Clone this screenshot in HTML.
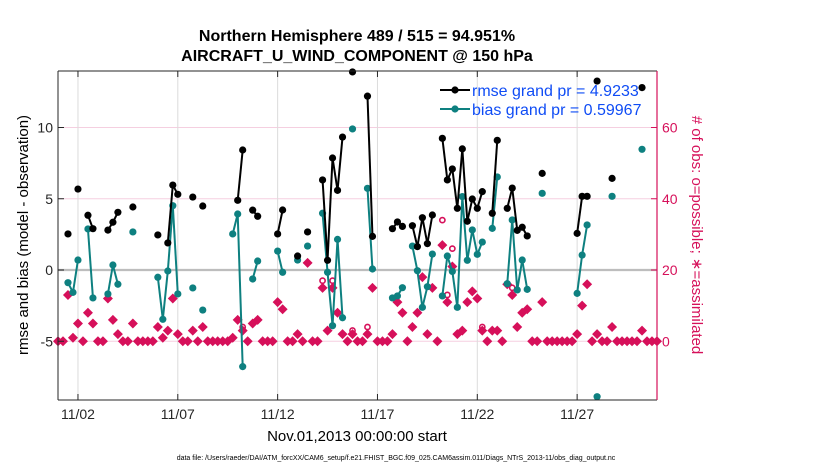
<!DOCTYPE html>
<html><head><meta charset="utf-8">
<style>
html,body{margin:0;padding:0;background:#fff;}
svg{display:block;font-family:"Liberation Sans",Arial,sans-serif;}
</style></head>
<body>
<svg id="chart" width="830" height="470" viewBox="0 0 830 470" xmlns="http://www.w3.org/2000/svg">
<rect x="0" y="0" width="830" height="470" fill="#fff"/>
<text x="357" y="41" text-anchor="middle" font-size="16" font-weight="bold">Northern Hemisphere 489 / 515 = 94.951%</text>
<text x="357" y="61" text-anchor="middle" font-size="16" font-weight="bold">AIRCRAFT_U_WIND_COMPONENT @ 150 hPa</text>
<g id="grid"></g>
<g id="marks"></g>
<g id="axes"></g>
<g>
  <line x1="440" y1="90" x2="470" y2="90" stroke="#000" stroke-width="2"/>
  <circle cx="455" cy="90" r="3.6" fill="#000"/>
  <text x="472" y="96" font-size="16" fill="#0f4cf5">rmse grand pr = 4.9233</text>
  <line x1="440" y1="109" x2="470" y2="109" stroke="#0e8080" stroke-width="2"/>
  <circle cx="455" cy="109" r="3.6" fill="#0e8080"/>
  <text x="472" y="115" font-size="16" fill="#0f4cf5">bias grand pr = 0.59967</text>
</g>
<text transform="translate(28,235) rotate(-90)" text-anchor="middle" font-size="15">rmse and bias (model - observation)</text>
<text transform="translate(692,235) rotate(90)" text-anchor="middle" font-size="15" fill="#d6105a"># of obs: o=possible; ∗=assimilated</text>
<text x="357" y="441" text-anchor="middle" font-size="15">Nov.01,2013 00:00:00 start</text>
<text x="396" y="460" text-anchor="middle" font-size="7">data file: /Users/raeder/DAI/ATM_forcXX/CAM6_setup/f.e21.FHIST_BGC.f09_025.CAM6assim.011/Diags_NTrS_2013-11/obs_diag_output.nc</text>
</svg>
<script>
var n = null;
var rmse = [n,n,2.53,n,5.68,n,3.84,2.9,n,n,2.8,3.35,4.05,n,n,4.42,n,n,n,n,2.46,n,1.9,5.96,5.31,n,n,5.12,n,4.49,
n,n,n,n,n,n,4.89,8.42,n,4.2,3.77,n,n,n,2.53,4.21,n,n,0.98,n,2.67,n,n,6.32,0.68,7.86,5.59,9.33,n,13.9,
n,n,12.2,2.36,n,n,n,2.9,3.37,3.06,n,3.11,1.64,3.67,1.85,3.86,n,9.24,6.32,7.09,4.33,8.5,3.42,4.98,4.33,5.5,n,3.98,9.1,n,
4.33,5.75,2.78,3.0,2.39,n,n,6.78,n,n,n,n,n,n,2.57,5.17,5.17,n,13.26,n,n,6.43,n,n,n,n,n,12.8,n,n,n];
var bias = [n,n,-0.89,-1.57,0.7,n,2.88,-1.96,n,n,-1.68,0.35,-1.0,n,n,2.67,n,n,n,n,-0.51,-3.46,-0.07,4.51,-1.68,n,n,-1.26,n,-2.81,
n,n,n,n,n,2.53,3.93,-6.78,n,-0.63,0.63,n,n,n,1.33,-0.16,n,n,0.7,n,1.68,n,n,3.98,-0.16,-3.91,2.15,-3.35,n,9.9,
n,n,5.73,0.07,n,n,n,-1.96,-1.82,-1.24,n,1.68,-0.05,-2.62,-1.17,1.12,n,-1.82,0.98,-0.1,-2.62,5.15,0.68,2.81,1.1,1.96,n,2.92,6.53,n,
-0.96,3.51,-1.4,0.7,-1.36,n,n,5.38,n,n,n,n,n,n,-1.64,1.05,3.16,n,-8.89,n,n,5.17,n,n,n,n,n,8.47,n,n,n];
var assimilated = [0,0,13,1,5,0,8,5,0,0,12,6,2,0,0,5,0,0,0,0,4,1,3,12,2,0,0,3,0,4,
0,0,0,0,0,1,6,3,0,5,6,0,0,0,11,9,0,0,2,0,22,0,0,15,3,15,8,2,0,2,
0,0,2,15,0,0,0,2,11,8,0,4,8,18,2,15,0,27,11,21,2,3,11,14,12,3,0,3,3,0,
16,13,4,8,9,0,0,11,0,0,0,0,0,0,2,10,16,0,2,0,0,4,0,0,0,0,0,3,0,0,0];
var possible = [0,0,13,1,5,0,8,5,0,0,12,6,2,0,0,5,0,0,0,0,4,1,3,12,2,0,0,3,0,4,
0,0,0,0,0,1,6,4,0,5,6,0,0,0,11,9,0,0,2,0,22,0,0,17,3,17,8,2,0,3,
0,0,4,15,0,0,0,2,11,8,0,4,8,18,2,15,0,34,13,26,2,3,11,14,12,4,0,3,3,0,
16,15,4,8,9,0,0,11,0,0,0,0,0,0,2,10,16,0,2,0,0,4,0,0,0,0,0,3,0,0,0];
var xTickLabels = ["11/02","11/07","11/12","11/17","11/22","11/27"];
var xTickDays = [1,6,11,16,21,26];
var yLeftTicks = [-5,0,5,10];
var yRightTicks = [0,20,40,60];

var L=58,R=657,T=71,B=400;
var PINK="#d6105a", TEAL="#0e8080";
function xDay(d){return L + (d/30)*(R-L);}
function xIdx(i){return xDay(i*0.25);}
function yL(v){return 270 - v*14.25;}
function yR(c){return yL(c/4 - 5);}
var NS="http://www.w3.org/2000/svg";
function mk(tag,attrs,parent){var e=document.createElementNS(NS,tag);for(var k in attrs)e.setAttribute(k,attrs[k]);parent.appendChild(e);return e;}
var grid=document.getElementById('grid'), marks=document.getElementById('marks'), axes=document.getElementById('axes');

for(var t=0;t<yRightTicks.length;t++){
  var gl=mk('line',{x1:L,x2:R,y1:yR(yRightTicks[t]),y2:yR(yRightTicks[t]),stroke:"#f5cfe0","stroke-width":1},grid);
  
  
}
for(var t=0;t<xTickDays.length;t++){
  var vg=mk('line',{x1:xDay(xTickDays[t]),x2:xDay(xTickDays[t]),y1:T,y2:B,stroke:"#dcdcdc","stroke-width":1},grid);
  
  
}
var zl=mk('line',{x1:L,x2:R,y1:yL(0),y2:yL(0),stroke:"#bdbdbd","stroke-width":2.2},grid);



for(var i=0;i<possible.length;i++){
  if(possible[i]!==assimilated[i]){
    var pc=mk('circle',{cx:xIdx(i),cy:yR(possible[i]),r:2.6,fill:"none",stroke:PINK,"stroke-width":1.6},marks);
    
    
  }
}
for(var i=0;i<assimilated.length;i++){
  var x=xIdx(i), y=yR(assimilated[i]);
  var dm=mk('polygon',{points:(x)+","+(y-5)+" "+(x+5)+","+y+" "+x+","+(y+5)+" "+(x-5)+","+y,fill:PINK},marks);
  
  
}
function series(arr,color,name){
  for(var i=0;i<arr.length-1;i++){
    if(arr[i]!==null && arr[i+1]!==null){
      var sl=mk('line',{x1:xIdx(i),y1:yL(arr[i]),x2:xIdx(i+1),y2:yL(arr[i+1]),stroke:color,"stroke-width":2},marks);
      
      
    }
  }
  for(var i=0;i<arr.length;i++){
    if(arr[i]===null) continue;
    var c=mk('circle',{cx:xIdx(i),cy:yL(arr[i]),r:3.6,fill:color},marks);
    
    
  }
}
series(bias,TEAL,'bias');
series(rmse,"#000",'rmse');

var fl=mk('line',{x1:L,y1:T,x2:L,y2:B,stroke:"#262626","stroke-width":1},axes);


var fb=mk('line',{x1:L,y1:B,x2:R,y2:B,stroke:"#262626","stroke-width":1},axes);


var ft=mk('line',{x1:L,y1:T,x2:R,y2:T,stroke:"#262626","stroke-width":1},axes);


var fr=mk('line',{x1:R,y1:T,x2:R,y2:B,stroke:PINK,"stroke-width":1.2},axes);



for(var t=0;t<yLeftTicks.length;t++){
  var y=yL(yLeftTicks[t]);
  mk('line',{x1:L,x2:L+6,y1:y,y2:y,stroke:"#262626"},axes);
  var lt=mk('text',{x:L-5,y:y+5,"text-anchor":"end","font-size":14,fill:"#262626"},axes);
  lt.textContent=yLeftTicks[t];
  
  
}
for(var t=0;t<yRightTicks.length;t++){
  var y=yR(yRightTicks[t]);
  mk('line',{x1:R-6,x2:R,y1:y,y2:y,stroke:PINK},axes);
  var rt=mk('text',{x:R+5,y:y+5,"font-size":14,fill:PINK},axes);
  rt.textContent=yRightTicks[t];
  
  
}
for(var t=0;t<xTickDays.length;t++){
  var x=xDay(xTickDays[t]);
  mk('line',{x1:x,x2:x,y1:B,y2:B-6,stroke:"#262626"},axes);
  mk('line',{x1:x,x2:x,y1:T,y2:T+6,stroke:"#262626"},axes);
  var xt=mk('text',{x:x,y:B+19,"text-anchor":"middle","font-size":14,fill:"#262626"},axes);
  xt.textContent=xTickLabels[t];
  
  
}
</script>
</body></html>
